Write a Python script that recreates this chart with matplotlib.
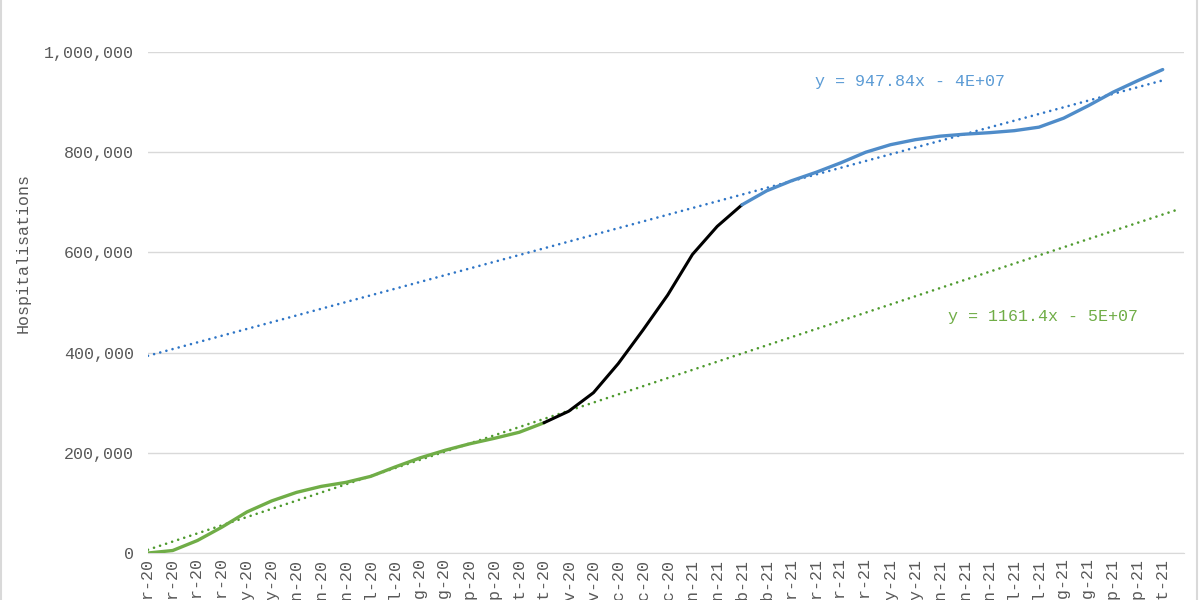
import numpy as np
import pandas as pd
import matplotlib
matplotlib.use("Agg")
import matplotlib.pyplot as plt
import matplotlib.dates as mdates
from matplotlib.lines import Line2D

# fortnightly dates (Excel date axis, major unit 14 days)
dates = pd.date_range("2020-03-10", periods=42, freq="14D")

# cumulative hospitalisations
values = [0, 5000, 25000, 52000, 82000, 104000, 121000, 133000, 141000, 153000,
          172000, 190000, 205000, 218000, 229000, 241000, 260000, 283000, 320000, 378000,
          445000, 515000, 596000, 652000, 695000, 723000, 743000, 760000, 779000, 800000,
          815000, 825000, 832000, 836000, 839000, 843000, 850000, 868000, 893000, 920000,
          943000, 965000]

# segment boundaries (index in the series)
green_end = 16
blue_start = 24

green_line = "#70ad47"
green_trend = "#4e9a2e"
blue_line = "#4f8cc9"
blue_trend = "#2e75c6"
grey = "#595959"

plt.rcParams["font.family"] = ["Liberation Mono", "DejaVu Sans Mono"]

x = mdates.date2num(dates)
y = np.array(values, dtype=float)

fig = plt.figure(figsize=(12, 6), dpi=100)
ax = fig.add_axes([0.1233, 0.0783, 0.8633, 0.835])

xg, yg = x[:green_end + 1], y[:green_end + 1]
xk, yk = x[green_end:blue_start + 1], y[green_end:blue_start + 1]
xb, yb = x[blue_start:], y[blue_start:]

ax.plot(xg, yg, color=green_line, lw=2.4, solid_capstyle="round",
        solid_joinstyle="round", zorder=3)
ax.plot(xk, yk, color="black", lw=2.2, solid_capstyle="round",
        solid_joinstyle="round", zorder=3)
ax.plot(xb, yb, color=blue_line, lw=2.4, solid_capstyle="round",
        solid_joinstyle="round", zorder=3)

# linear trendlines (Excel style) - green forecast forward, blue backcast
xmax = x[-1] + 12
dots = (0, (0.01, 2.4))
mg, cg = np.polyfit(xg, yg, 1)
tg = np.array([x[0], xmax - 2])
ax.plot(tg, mg * tg + cg, color=green_trend, lw=1.9, ls=dots,
        dash_capstyle="round", zorder=2)

mb, cb = np.polyfit(xb, yb, 1)
tb = np.array([x[0], x[-1]])
ax.plot(tb, mb * tb + cb, color=blue_trend, lw=1.9, ls=dots,
        dash_capstyle="round", zorder=2)

ax.text(0.644, 0.942, "y = 947.84x - 4E+07", transform=ax.transAxes,
        color="#5b9bd5", fontsize=12, va="center", ha="left")
ax.text(0.772, 0.473, "y = 1161.4x - 5E+07", transform=ax.transAxes,
        color=green_line, fontsize=12, va="center", ha="left")

ax.set_xlim(x[0], xmax)
ax.set_ylim(0, 1000000)
ax.set_yticks(np.arange(0, 1000001, 200000))
ax.yaxis.set_major_formatter(matplotlib.ticker.FuncFormatter(lambda v, p: f"{int(v):,}"))
ax.set_xticks(x)
ax.xaxis.set_major_formatter(mdates.DateFormatter("%b-%y"))
plt.setp(ax.get_xticklabels(), rotation=90, ha="center", va="top")

ax.grid(axis="y", color="#d9d9d9", lw=1)
ax.set_axisbelow(True)
for s in ["top", "right", "left"]:
    ax.spines[s].set_visible(False)
ax.spines["bottom"].set_color("#d9d9d9")
ax.tick_params(axis="both", length=0, colors=grey, labelsize=12)
ax.tick_params(axis="y", pad=10)
ax.tick_params(axis="x", pad=4)

ax.set_ylabel("Hospitalisations", color=grey, fontsize=12)
ax.yaxis.set_label_coords(-0.113, 0.599)

# chart area border
fig.add_artist(Line2D([0.001, 0.001], [0, 1], color="#d9d9d9", lw=1.5))
fig.add_artist(Line2D([0.9975, 0.9975], [0, 1], color="#d9d9d9", lw=1.5))

fig.savefig("out.png", dpi=100)
